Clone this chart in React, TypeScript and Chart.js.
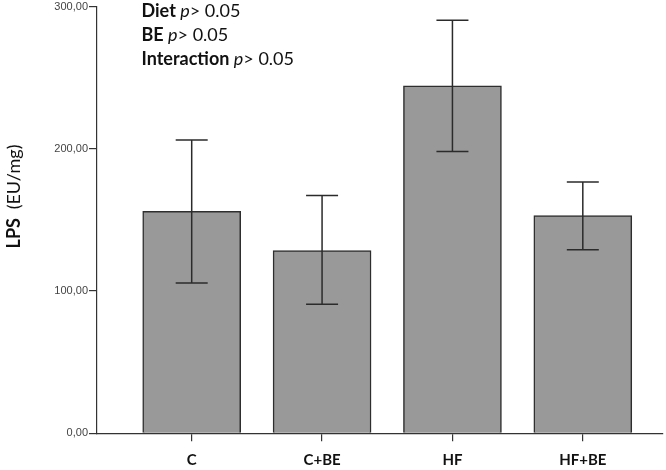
import React, { useEffect, useRef } from "react";
import { Chart, registerables } from "chart.js";

Chart.register(...registerables);

const categories = ["C", "C+BE", "HF", "HF+BE"];
const means = [156.1, 128.5, 244.3, 153.1];
const errLow = [105.6, 90.7, 198.0, 129.0];
const errHigh = [206.2, 167.1, 290.3, 176.7];
const yTickValues = [0, 100, 200, 300];
const statLabels = ["Diet", "BE", "Interaction"];
const statValues = ["> 0.05", "> 0.05", "> 0.05"];
const yTitleBold = "LPS";
const yTitleRest = "(EU/mg)";

const FONT = "Lato, 'Open Sans', sans-serif";

const errorBarPlugin = {
  id: "errorBars",
  afterDatasetsDraw(chart: any) {
    const ctx = chart.ctx;
    const xs = chart.scales.x;
    const ys = chart.scales.y;
    ctx.save();
    ctx.strokeStyle = "#2b2b2b";
    ctx.lineWidth = 1.5;
    for (let i = 0; i < means.length; i++) {
      const x = xs.getPixelForValue(i);
      const yH = ys.getPixelForValue(errHigh[i]);
      const yL = ys.getPixelForValue(errLow[i]);
      const half = 16;
      ctx.beginPath();
      ctx.moveTo(x, yH);
      ctx.lineTo(x, yL);
      ctx.moveTo(x - half, yH);
      ctx.lineTo(x + half, yH);
      ctx.moveTo(x - half, yL);
      ctx.lineTo(x + half, yL);
      ctx.stroke();
    }
    ctx.restore();
  },
};

const textPlugin = {
  id: "texts",
  afterDraw(chart: any) {
    const ctx = chart.ctx;
    ctx.save();
    ctx.fillStyle = "#111";
    ctx.textBaseline = "alphabetic";
    ctx.textAlign = "left";
    const x0 = 141.5;
    const baselines = [17, 40.5, 65];
    const fs = 18;
    for (let i = 0; i < statLabels.length; i++) {
      let x = x0;
      const y = baselines[i];
      ctx.font = `bold ${fs}px ${FONT}`;
      ctx.fillText(statLabels[i], x, y);
      x += ctx.measureText(statLabels[i] + " ").width;
      ctx.font = `italic ${fs}px ${FONT}`;
      ctx.fillText("p", x, y);
      x += ctx.measureText("p").width;
      ctx.font = `${fs}px ${FONT}`;
      ctx.fillText(statValues[i], x, y);
    }
    // y-axis title
    ctx.translate(14, 196.5);
    ctx.rotate(-Math.PI / 2);
    ctx.textBaseline = "middle";
    const ts = 18;
    ctx.font = `bold ${ts}px ${FONT}`;
    const w1 = ctx.measureText(yTitleBold + "  ").width;
    ctx.font = `${ts}px ${FONT}`;
    const w2 = ctx.measureText(yTitleRest).width;
    const start = -(w1 + w2) / 2;
    ctx.font = `bold ${ts}px ${FONT}`;
    ctx.fillText(yTitleBold, start, 0);
    ctx.font = `${ts}px ${FONT}`;
    ctx.fillText(yTitleRest, start + w1, 0);
    ctx.restore();
  },
};

export default function App() {
  const ref = useRef<HTMLCanvasElement>(null);
  useEffect(() => {
    document.body.style.margin = "0";
    const canvas = ref.current!;
    const chart = new Chart(canvas, {
      type: "bar",
      data: {
        datasets: [
          {
            data: means.map((m, i) => ({ x: i, y: m })),
            backgroundColor: "#999999",
            borderColor: "#2e2e2e",
            borderWidth: 1.5,
            barThickness: 98,
          },
        ],
      },
      options: {
        animation: false,
        responsive: false,
        maintainAspectRatio: false,
        layout: { padding: { top: 5.5, right: 3, left: 0, bottom: 0 } },
        plugins: {
          legend: { display: false },
          tooltip: { enabled: false },
        },
        scales: {
          x: {
            type: "linear",
            offset: false,
            min: -0.7264,
            max: 3.6151,
            afterBuildTicks: (s: any) => {
              s.ticks = categories.map((_, i) => ({ value: i }));
            },
            afterFit: (s: any) => {
              s.height = 36.7;
            },
            ticks: {
              autoSkip: false,
              maxRotation: 0,
              padding: 11,
              color: "#111",
              font: { family: FONT, size: 15, weight: "bold", lineHeight: 1 },
              callback: (v: any) => categories[v as number] ?? "",
            },
            grid: {
              offset: false,
              drawOnChartArea: false,
              drawTicks: true,
              tickLength: 8,
              color: "#333",
              lineWidth: 1.2,
            },
            border: { display: true, color: "#333", width: 1.2 },
          },
          y: {
            min: 0,
            max: 300,
            afterBuildTicks: (s: any) => {
              s.ticks = yTickValues.map((v) => ({ value: v }));
            },
            afterFit: (s: any) => {
              s.width = 97;
            },
            ticks: {
              padding: 1,
              color: "#444",
              font: { family: "'Liberation Sans', Arial, sans-serif", size: 11, lineHeight: 1 },
              callback: (v: any) => Number(v).toFixed(2).replace(".", ","),
            },
            grid: {
              drawOnChartArea: false,
              drawTicks: true,
              tickLength: 8,
              color: "#333",
              lineWidth: 1.2,
            },
            border: { display: true, color: "#333", width: 1.2 },
          },
        },
      },
      plugins: [errorBarPlugin, textPlugin],
    } as any);
    return () => chart.destroy();
  }, []);
  return (
    <div style={{ width: 666, height: 470 }}>
      <canvas ref={ref} width={666} height={470} style={{ display: "block" }} />
    </div>
  );
}
